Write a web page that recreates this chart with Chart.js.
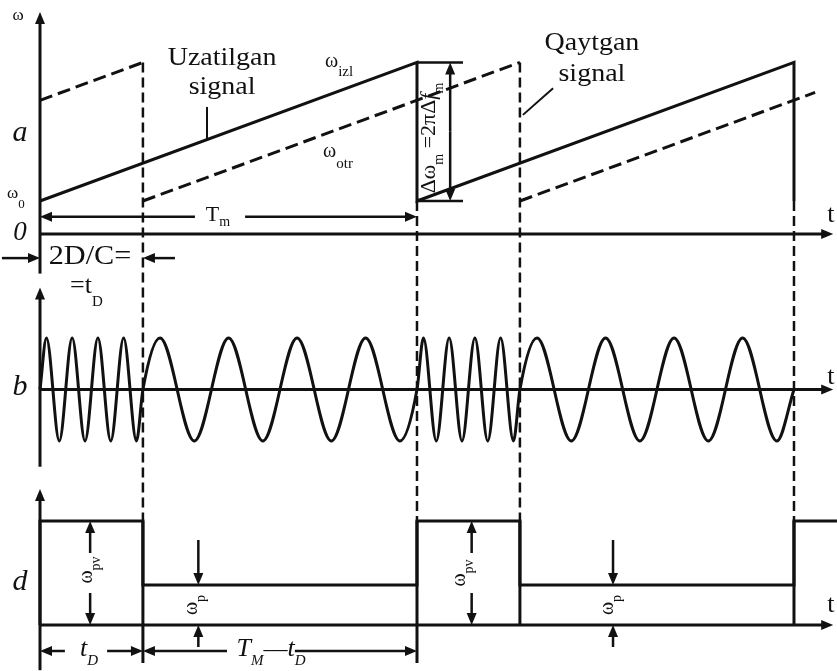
<!DOCTYPE html>
<html>
<head>
<meta charset="utf-8">
<script src="https://cdn.jsdelivr.net/npm/chart.js@4.4.1/dist/chart.umd.min.js"></script>
<style>
  html, body { margin: 0; padding: 0; background: #fff; }
  #wrap { width: 837px; height: 671px; }
</style>
</head>
<body>
<div id="wrap"><canvas id="chirpChart" width="837" height="671"></canvas></div>
<script>
// time axis: one sweep T_m = 100, delay t_D = 27.3
const sentT = [0, 100, 100, 200, 200];
const sentW = [1, 5.2, 1, 5.2, 1];

// received (delayed) sweep, in three pieces
const recvT = [[0, 27.3], [27.3, 127.3], [127.3, 205.6]];
const recvW = [[4.05, 5.2], [1, 5.2], [1, 4.29]];

// beat signal: peaks/troughs, zero crossings where the frequency changes
const beatT = [
  0, 1.71, 5.12, 8.53, 11.94, 15.36, 18.77, 22.18, 25.59, 27.3,
  31.84, 40.93, 50.02, 59.11, 68.19, 77.28, 86.37, 95.46, 100,
  101.71, 105.12, 108.53, 111.94, 115.36, 118.77, 122.18, 125.59, 127.3,
  131.84, 140.93, 150.02, 159.11, 168.19, 177.28, 186.37, 195.46, 200
];
const beatV = [
  0, 1, -1, 1, -1, 1, -1, 1, -1, 0,
  1, -1, 1, -1, 1, -1, 1, -1, 0,
  1, -1, 1, -1, 1, -1, 1, -1, 0,
  1, -1, 1, -1, 1, -1, 1, -1, 0
];

// difference frequency (panel d): ω_pv = 2.6, ω_p = 1
const diffT = [0, 0, 27.3, 27.3, 100, 100, 127.3, 127.3, 200, 200, 211.4];
const diffW = [0, 2.6, 2.6, 1, 1, 2.6, 2.6, 1, 1, 2.6, 2.6];

// sweep ends and delayed sweep ends
const markT = [27.3, 100, 127.3, 200];
const markTop = [5.2, 1, 5.2, 1];
const markBottom = [-0.95, -0.95, 0, 0];

const INK = "#111";
const SERIF = '"Liberation Serif", "DejaVu Serif", serif';

function toPoints(ts, vs) {
  return ts.map((t, i) => ({ x: t, y: vs[i] }));
}

function recvPoints() {
  const pts = [];
  recvT.forEach((seg, i) => {
    pts.push({ x: seg[0], y: recvW[i][0] });
    pts.push({ x: seg[1], y: recvW[i][1] });
    pts.push({ x: seg[1], y: null });
  });
  return pts;
}

// text made of runs: [text, size, italic, dy]
function drawRuns(ctx, x, y, parts, opts = {}) {
  const sx = opts.sx || 1;
  const align = opts.align || "center";
  ctx.save();
  ctx.translate(x, y);
  if (opts.rot) ctx.rotate(opts.rot);
  ctx.scale(sx, 1);
  ctx.fillStyle = INK;
  ctx.textBaseline = "alphabetic";
  ctx.textAlign = "left";
  const fontOf = (p) => (p[2] ? "italic " : "") + p[1] + "px " + SERIF;
  const widths = parts.map((p) => {
    ctx.font = fontOf(p);
    return ctx.measureText(p[0]).width;
  });
  const total = widths.reduce((a, b) => a + b, 0);
  let cx = align === "center" ? -total / 2 : align === "right" ? -total : 0;
  parts.forEach((p, i) => {
    ctx.font = fontOf(p);
    ctx.fillText(p[0], cx, p[3] || 0);
    cx += widths[i];
  });
  ctx.restore();
}

const diagramPlugin = {
  id: "diagram",
  afterDatasetsDraw(chart) {
    const ctx = chart.ctx;
    const X = (t) => chart.scales.x.getPixelForValue(t);
    const A = (v) => chart.scales.yA.getPixelForValue(v);
    const B = (v) => chart.scales.yB.getPixelForValue(v);
    const D = (v) => chart.scales.yD.getPixelForValue(v);

    function line(x1, y1, x2, y2, w, dash) {
      ctx.save();
      ctx.strokeStyle = INK;
      ctx.lineWidth = w || 3;
      ctx.setLineDash(dash || []);
      ctx.beginPath();
      ctx.moveTo(x1, y1);
      ctx.lineTo(x2, y2);
      ctx.stroke();
      ctx.restore();
    }

    function head(x, y, dx, dy) {
      const L = 12, H = 5;
      ctx.save();
      ctx.fillStyle = INK;
      ctx.beginPath();
      ctx.moveTo(x, y);
      ctx.lineTo(x - dx * L - dy * H, y - dy * L + dx * H);
      ctx.lineTo(x - dx * L + dy * H, y - dy * L - dx * H);
      ctx.closePath();
      ctx.fill();
      ctx.restore();
    }

    // arrow from (x1,y1) with its tip at (x2,y2)
    function arrow(x1, y1, x2, y2, w) {
      const len = Math.hypot(x2 - x1, y2 - y1);
      const dx = (x2 - x1) / len, dy = (y2 - y1) / len;
      line(x1, y1, x2 - dx * 8, y2 - dy * 8, w || 2.5);
      head(x2, y2, dx, dy);
    }

    // guides through all three panels
    markT.forEach((t, i) => {
      line(X(t), A(markTop[i]), X(t), D(2.6), 2.5, [10, 5]);
      line(X(t), D(2.6), X(t), D(markBottom[i]), 3);
    });

    // axes
    arrow(X(0), A(-1.2), X(0), A(6.73), 3);
    arrow(X(0), A(0), X(210.4), A(0), 3);
    arrow(X(0), B(-1.5), X(0), B(1.98), 3);
    arrow(X(0), B(0), X(210.4), B(0), 3);
    arrow(X(0), D(-1.13), X(0), D(3.4), 3);
    arrow(X(0), D(0), X(210.4), D(0), 3);

    // panel a: sweep deviation
    line(X(100), A(5.2), X(112.2), A(5.2), 2.5);
    line(X(100), A(1), X(112.2), A(1), 2.5);
    arrow(X(108.8), A(3.1), X(108.8), A(5.2));
    arrow(X(108.8), A(3.1), X(108.8), A(1));

    // T_m dimension
    arrow(X(41.1), A(0.52), X(0), A(0.52));
    arrow(X(54.4), A(0.52), X(100), A(0.52));

    // 2D/C dimension
    arrow(X(-10.1), A(-0.73), X(0), A(-0.73));
    arrow(X(35.8), A(-0.73), X(27.3), A(-0.73));

    // leader lines
    line(X(44.3), A(3.85), X(44.3), A(2.86), 2);
    line(X(128.1), A(3.61), X(136.1), A(4.42), 2);

    // panel d: level dimensions
    [13.3, 114.5].forEach((t) => {
      arrow(X(t), D(1.8), X(t), D(2.6));
      arrow(X(t), D(0.8), X(t), D(0));
    });
    [42, 152].forEach((t) => {
      arrow(X(t), D(2.125), X(t), D(1));
      arrow(X(t), D(-0.55), X(t), D(0));
    });
    arrow(X(6.6), D(-0.65), X(0), D(-0.65));
    arrow(X(17.8), D(-0.65), X(27.3), D(-0.65));
    arrow(X(49.6), D(-0.65), X(27.3), D(-0.65));
    arrow(X(67.6), D(-0.65), X(100), D(-0.65));

    // texts
    const up = -Math.PI / 2;
    drawRuns(ctx, X(-5.84), A(6.48), [["ω", 17]]);
    drawRuns(ctx, X(-5.3), A(2.82), [["a", 30, true]]);
    drawRuns(ctx, X(-8.75), A(1.09), [["ω", 17], ["0", 13, false, 10]], { align: "left" });
    drawRuns(ctx, X(-5.3), A(-0.18), [["0", 27, true]]);
    drawRuns(ctx, X(48.3), A(5.12), [["Uzatilgan", 25]], { sx: 1.12 });
    drawRuns(ctx, X(48.3), A(4.24), [["signal", 25]], { sx: 1.12 });
    drawRuns(ctx, X(146.4), A(5.58), [["Qaytgan", 25]], { sx: 1.12 });
    drawRuns(ctx, X(146.4), A(4.64), [["signal", 25]], { sx: 1.12 });
    drawRuns(ctx, X(75.6), A(5.06), [["ω", 20], ["izl", 15, false, 9]], { align: "left" });
    drawRuns(ctx, X(75.1), A(2.33), [["ω", 20], ["otr", 15, false, 11]], { align: "left" });
    drawRuns(ctx, X(47.2), A(0.39), [["T", 22], ["m", 14, false, 5]]);
    drawRuns(ctx, X(13.26), A(-0.91), [["2D/C=", 27]], { sx: 1.12 });
    drawRuns(ctx, X(7.96), A(-1.79), [["=t", 26], ["D", 15, false, 13]], { align: "left" });
    drawRuns(ctx, X(209.8), A(0.36), [["t", 26]]);
    drawRuns(ctx, X(104.8), A(2.91),
      [["Δω", 22], ["m", 14, false, 8], [" =2πΔ", 22], ["f", 22, true], ["m", 14, false, 8]],
      { rot: up });

    drawRuns(ctx, X(-5.3), B(-0.107), [["b", 30, true]]);
    drawRuns(ctx, X(209.8), B(0.107), [["t", 26]]);

    drawRuns(ctx, X(-5.3), D(0.875), [["d", 30, true]]);
    drawRuns(ctx, X(209.8), D(0.325), [["t", 26]]);
    drawRuns(ctx, X(13.8), D(1.375), [["ω", 20], ["pv", 14, false, 8]], { rot: up });
    drawRuns(ctx, X(112.7), D(1.3), [["ω", 20], ["pv", 14, false, 8]], { rot: up });
    drawRuns(ctx, X(41.6), D(0.5), [["ω", 20], ["p", 14, false, 8]], { rot: up });
    drawRuns(ctx, X(152), D(0.5), [["ω", 20], ["p", 14, false, 8]], { rot: up });
    drawRuns(ctx, X(13), D(-0.775), [["t", 26, true], ["D", 15, true, 9]]);
    drawRuns(ctx, X(61.3), D(-0.775),
      [["T", 26, true], ["M", 15, true, 9], ["—", 24], ["t", 26, true], ["D", 15, true, 9]]);
  },
};

new Chart(document.getElementById("chirpChart"), {
  type: "line",
  data: {
    datasets: [
      {
        label: "ω izl",
        data: toPoints(sentT, sentW),
        yAxisID: "yA",
        borderColor: INK,
        borderWidth: 3,
        pointRadius: 0,
        tension: 0,
      },
      {
        label: "ω otr",
        data: recvPoints(),
        yAxisID: "yA",
        borderColor: INK,
        borderWidth: 3,
        borderDash: [13, 6],
        pointRadius: 0,
        tension: 0,
        spanGaps: false,
      },
      {
        label: "beat",
        data: toPoints(beatT, beatV),
        yAxisID: "yB",
        borderColor: INK,
        borderWidth: 3,
        pointRadius: 0,
        cubicInterpolationMode: "monotone",
      },
      {
        label: "diff",
        data: toPoints(diffT, diffW),
        yAxisID: "yD",
        borderColor: INK,
        borderWidth: 3,
        pointRadius: 0,
        tension: 0,
      },
    ],
  },
  options: {
    responsive: false,
    animation: false,
    devicePixelRatio: 1,
    layout: { padding: 0 },
    plugins: { legend: { display: false }, tooltip: { enabled: false } },
    scales: {
      x: { type: "linear", min: -10.61, max: 211.41, display: false },
      yA: { type: "linear", min: -13.242, max: 7.091, display: false },
      yB: { type: "linear", min: -5.466, max: 7.563, display: false },
      yD: { type: "linear", min: -1.15, max: 15.625, display: false },
    },
  },
  plugins: [diagramPlugin],
});
</script>
</body>
</html>
